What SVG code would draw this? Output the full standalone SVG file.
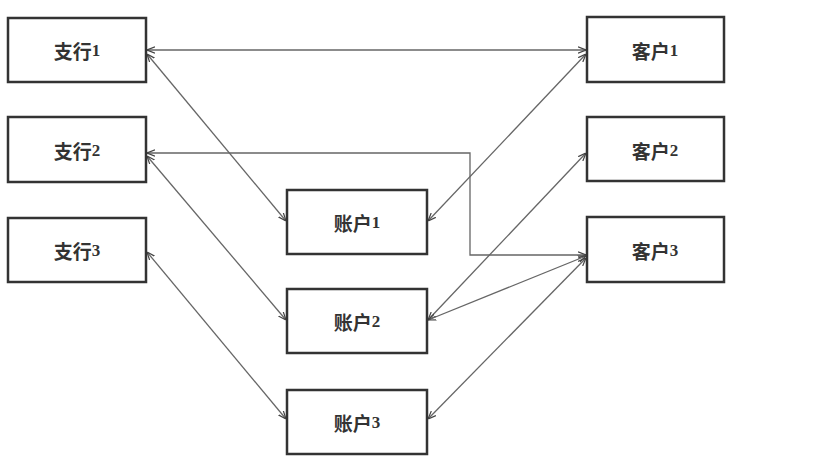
<svg xmlns="http://www.w3.org/2000/svg" width="816" height="473" viewBox="0 0 816 473">
<style>
.box{fill:#fff;stroke:#333;stroke-width:2.5}
.t{font-family:"Noto Sans CJK SC","Liberation Sans",sans-serif;font-weight:bold;font-size:19px;fill:#333;text-anchor:middle;dominant-baseline:central}
.n{font-family:"Liberation Serif",serif;font-size:17px;font-weight:bold}
.c{fill:none;stroke:#666;stroke-width:1.3}
</style>
<defs>
<marker id="a" viewBox="0 0 10 10" refX="10" refY="5" markerWidth="8" markerHeight="8" orient="auto-start-reverse" markerUnits="userSpaceOnUse">
<path d="M0,1 L10,5 L0,9" fill="none" stroke="#444" stroke-width="1.5"/>
</marker>
</defs>
<rect width="816" height="473" fill="#fff"/>
<g id="connectors">
<line class="c" x1="147" y1="50" x2="586" y2="50" marker-start="url(#a)" marker-end="url(#a)"/>
<line class="c" x1="147" y1="54" x2="286" y2="221" marker-start="url(#a)" marker-end="url(#a)"/>
<line class="c" x1="586" y1="54" x2="428" y2="221" marker-start="url(#a)" marker-end="url(#a)"/>
<polyline class="c" points="147,153 470,153 470,255 586,255" marker-start="url(#a)" marker-end="url(#a)"/>
<line class="c" x1="147" y1="156" x2="286" y2="320" marker-start="url(#a)" marker-end="url(#a)"/>
<line class="c" x1="586" y1="153" x2="428" y2="320" marker-start="url(#a)" marker-end="url(#a)"/>
<line class="c" x1="586" y1="256" x2="428" y2="320" marker-start="url(#a)" marker-end="url(#a)"/>
<line class="c" x1="147" y1="252" x2="286" y2="419" marker-start="url(#a)" marker-end="url(#a)"/>
<line class="c" x1="586" y1="258" x2="428" y2="419" marker-start="url(#a)" marker-end="url(#a)"/>
</g>
<g id="b1"><rect class="box" x="8" y="18" width="138" height="64"/><text class="t" x="77" y="50">支行<tspan class="n">1</tspan></text></g>
<g id="b2"><rect class="box" x="8" y="117" width="138" height="65"/><text class="t" x="77" y="150">支行<tspan class="n">2</tspan></text></g>
<g id="b3"><rect class="box" x="8" y="218" width="138" height="64"/><text class="t" x="77" y="250">支行<tspan class="n">3</tspan></text></g>
<g id="a1"><rect class="box" x="287" y="190" width="140" height="64"/><text class="t" x="357" y="222">账户<tspan class="n">1</tspan></text></g>
<g id="a2"><rect class="box" x="287" y="289" width="140" height="64"/><text class="t" x="357" y="321">账户<tspan class="n">2</tspan></text></g>
<g id="a3"><rect class="box" x="287" y="390" width="140" height="64"/><text class="t" x="357" y="422">账户<tspan class="n">3</tspan></text></g>
<g id="k1"><rect class="box" x="587" y="17" width="137" height="65"/><text class="t" x="655" y="50">客户<tspan class="n">1</tspan></text></g>
<g id="k2"><rect class="box" x="587" y="117" width="137" height="64"/><text class="t" x="655" y="150">客户<tspan class="n">2</tspan></text></g>
<g id="k3"><rect class="box" x="587" y="217" width="137" height="65"/><text class="t" x="655" y="250">客户<tspan class="n">3</tspan></text></g>
</svg>
